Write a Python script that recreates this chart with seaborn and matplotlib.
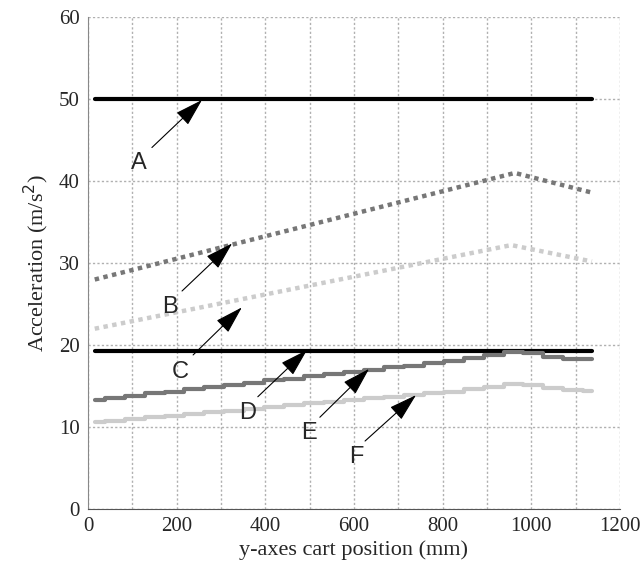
import pandas as pd
import matplotlib.pyplot as plt
import seaborn as sns

# curve data (position in mm, acceleration in m/s^2)
x_flat = [15, 1137]
a_vals = [50, 50]
d_vals = [19.3, 19.3]

b_x = [15, 963, 1137]
b_vals = [28.0, 41.0, 38.6]

c_x = [15, 955, 1137]
c_vals = [22.0, 32.2, 30.2]

step_x = [15, 60, 105, 150, 195, 240, 285, 330, 375, 420, 465, 510, 555,
          600, 645, 690, 735, 780, 825, 870, 915, 960, 1005, 1050, 1095, 1137]
e_vals = [13.3, 13.5, 13.8, 14.1, 14.3, 14.6, 14.9, 15.1, 15.4, 15.7, 15.9, 16.2, 16.5,
          16.7, 17.0, 17.3, 17.5, 17.8, 18.1, 18.4, 18.8, 19.1, 19.0, 18.6, 18.3, 18.3]
f_vals = [10.6, 10.8, 11.0, 11.2, 11.4, 11.6, 11.8, 12.0, 12.2, 12.5, 12.7, 12.9, 13.1,
          13.3, 13.5, 13.7, 13.9, 14.1, 14.3, 14.6, 14.9, 15.2, 15.1, 14.8, 14.5, 14.4]

# labels: letter position, arrow tail, arrow head
labels = ['A', 'B', 'C', 'D', 'E', 'F']
label_pos = [(115, 42.2), (185, 24.6), (208, 16.7), (359, 11.7), (499, 9.3), (605, 6.3)]
arrow_tail = [(144, 44.1), (212, 26.6), (237, 18.8), (383, 13.7), (523, 11.2), (625, 8.3)]
arrow_head = [(257, 49.9), (325, 32.4), (347, 24.6), (494, 19.4), (634, 17.1), (740, 13.9)]

sns.set_style('white')
plt.rcParams['font.family'] = ['Liberation Serif', 'DejaVu Serif']

fig = plt.figure(figsize=(6.43, 5.72), dpi=100)
ax = fig.add_axes([0.137, 0.110, 0.827, 0.860])

sns.lineplot(x=b_x, y=b_vals, ax=ax, color='#777777', lw=3.2, linestyle=(0, (1, 1)))
sns.lineplot(x=c_x, y=c_vals, ax=ax, color='#cccccc', lw=3.2, linestyle=(0, (1, 1)))
sns.lineplot(x=x_flat, y=a_vals, ax=ax, color='black', lw=3)
sns.lineplot(x=x_flat, y=d_vals, ax=ax, color='black', lw=3)
sns.lineplot(x=step_x, y=e_vals, ax=ax, color='#777777', lw=3, drawstyle='steps-mid')
sns.lineplot(x=step_x, y=f_vals, ax=ax, color='#cccccc', lw=3, drawstyle='steps-mid')

for lab, pos, tail, head in zip(labels, label_pos, arrow_tail, arrow_head):
    ax.annotate('', xy=head, xytext=tail,
                arrowprops=dict(arrowstyle='-|>,head_length=1.1,head_width=0.33',
                                lw=0.8, color='black', shrinkA=0, shrinkB=0,
                                mutation_scale=16))
    ax.text(pos[0], pos[1], lab, ha='center', va='center', fontsize=17,
            family=['Liberation Sans', 'DejaVu Sans'])

ax.set_xlim(0, 1200)
ax.set_ylim(0, 60)
ax.set_xticks(range(0, 1201, 200))
ax.set_yticks(range(0, 61, 10))
ax.set_xticks(range(0, 1201, 100), minor=True)
ax.grid(True, which='both', color='#b0b0b0', lw=1, linestyle=(0, (1.6, 1.6)))
ax.tick_params(axis='y', direction='in', length=4, labelsize=15, pad=6)
ax.tick_params(axis='x', direction='in', length=0, labelsize=15, pad=6)
ax.tick_params(which='minor', length=0)

for s in ['top', 'right']:
    ax.spines[s].set_visible(False)
ax.spines['left'].set_color('#888888')
ax.spines['bottom'].set_color('#555555')
ax.spines['bottom'].set_linestyle((0, (3, 1)))

ax.set_xlabel('y-axes cart position (mm)', fontsize=16, labelpad=3)
ax.set_ylabel('Acceleration (m/s$^2$)', fontsize=16, labelpad=6)

plt.savefig('out.png', dpi=100)
